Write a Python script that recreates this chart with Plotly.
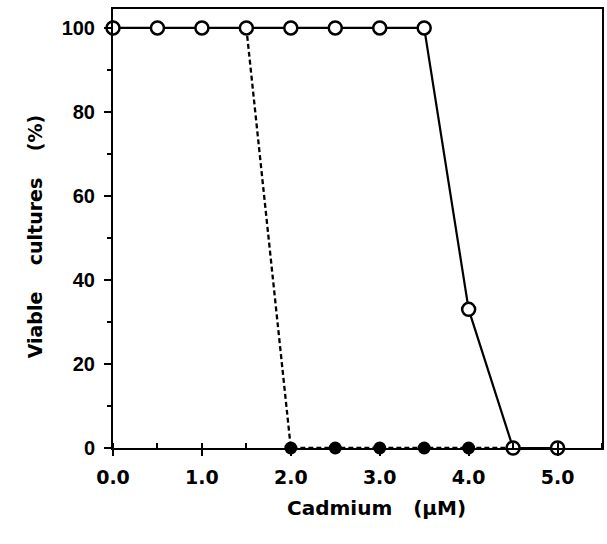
import plotly.graph_objects as go

# Data
cd_open = [0.0, 0.5, 1.0, 1.5, 2.0, 2.5, 3.0, 3.5, 4.0, 4.5, 5.0]
viable_open = [100, 100, 100, 100, 100, 100, 100, 100, 33, 0, 0]
cd_filled = [1.5, 2.0, 2.5, 3.0, 3.5, 4.0, 4.5]
viable_filled = [100, 0, 0, 0, 0, 0, 0]
x_ticks = [0, 1, 2, 3, 4, 5]
x_tick_labels = ["0.0", "1.0", "2.0", "3.0", "4.0", "5.0"]
y_ticks = [0, 20, 40, 60, 80, 100]

HELV = "Liberation Sans, Arial, sans-serif"
WIDE = "DejaVu Sans, Verdana, sans-serif"

W, H = 607, 544
L, R, T, B = 113, 3, 9, 96

fig = go.Figure()
fig.add_trace(go.Scatter(
    x=cd_filled, y=viable_filled, mode="lines+markers",
    line=dict(color="black", width=2.3, dash="5px,3px"),
    marker=dict(symbol="circle", size=13, color="black"),
    cliponaxis=False, showlegend=False))
fig.add_trace(go.Scatter(
    x=cd_open, y=viable_open, mode="lines+markers",
    line=dict(color="black", width=2.2),
    marker=dict(symbol="circle", size=13, color="white",
                line=dict(color="black", width=2.5)),
    cliponaxis=False, showlegend=False))

pw = W - L - R
ph = H - T - B

def px_x(px):
    return (px - L) / pw

def px_y(py):
    return (H - B - py) / ph

fig.update_layout(
    width=W, height=H,
    margin=dict(l=L, r=R, t=T, b=B),
    paper_bgcolor="white", plot_bgcolor="white",
    font=dict(family=HELV, color="black"),
    xaxis=dict(range=[0, 5.5], tickvals=x_ticks, ticktext=x_tick_labels,
               showgrid=False, zeroline=False, showline=True, linecolor="black",
               linewidth=2, mirror=True, ticks="outside", ticklen=6, tickwidth=2,
               tickcolor="black", ticklabelstandoff=5,
               tickfont=dict(size=19, family=WIDE, weight="bold"),
               minor=dict(dtick=0.5, ticks="inside", ticklen=5, tickwidth=2,
                          tickcolor="black", showgrid=False)),
    yaxis=dict(range=[0, 104.5], tickvals=y_ticks,
               showgrid=False, zeroline=False, showline=True, linecolor="black",
               linewidth=2, mirror=True, ticks="outside", ticklen=7, tickwidth=2,
               tickcolor="black", ticklabelstandoff=5,
               tickfont=dict(size=20, family=HELV, weight="bold"),
               minor=dict(dtick=10, ticks="outside", ticklen=4, tickwidth=2,
                          tickcolor="black", showgrid=False)),
    annotations=[
        dict(text="Cadmium\u00a0\u00a0\u00a0(\u03bcM)", x=px_x(378), y=px_y(522),
             xref="paper", yref="paper", showarrow=False,
             font=dict(size=20, family=WIDE, weight="bold")),
        dict(text="Viable\u00a0\u00a0\u00a0\u00a0cultures\u00a0\u00a0\u00a0\u00a0(%)",
             x=px_x(22), y=px_y(236),
             xref="paper", yref="paper", showarrow=False, textangle=-90,
             font=dict(size=19, family=WIDE, weight="bold")),
    ],
)

fig.write_html("out.html", config={"displayModeBar": False},
               post_script="document.body.style.margin='0';")
